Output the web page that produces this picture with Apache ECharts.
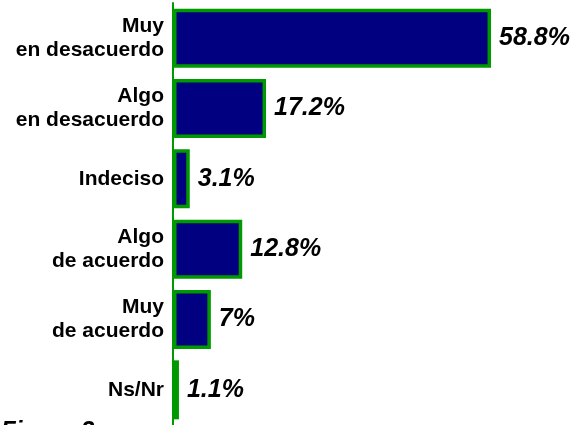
<!DOCTYPE html>
<html>
<head>
<meta charset="utf-8">
<script src="https://cdn.jsdelivr.net/npm/echarts@6/dist/echarts.min.js"></script>
<style>html,body{margin:0;padding:0;background:#fff;}#c{width:575px;height:425px;}</style>
</head>
<body>
<div id="c"></div>
<script>
const categories = ["Muy\nen desacuerdo", "Algo\nen desacuerdo", "Indeciso", "Algo\nde acuerdo", "Muy\nde acuerdo", "Ns/Nr"];
const values = [58.8, 17.2, 3.1, 12.8, 7, 1.1];
const valueLabels = ["58.8%", "17.2%", "3.1%", "12.8%", "7%", "1.1%"];
const figureTitle = "Figura 2";

const chart = echarts.init(document.getElementById('c'), null, {renderer: 'canvas'});
chart.setOption({
  animation: false,
  grid: {left: 173, right: 23.4, top: 3, bottom: -5, containLabel: false},
  xAxis: {
    type: 'value', min: 0, max: 70,
    show: false
  },
  yAxis: {
    type: 'category', data: categories, inverse: true,
    axisLine: {show: true, lineStyle: {color: '#009900', width: 2}},
    axisTick: {show: false},
    splitLine: {show: false},
    axisLabel: {
      margin: 9, align: 'right', color: '#000',
      fontFamily: 'Liberation Sans, Arial, sans-serif', fontWeight: 'bold', fontSize: 21, lineHeight: 24
    }
  },
  series: [{
    type: 'bar',
    data: values.map((v, i) => ({value: v, label: {formatter: valueLabels[i]}})),
    barWidth: 59,
    itemStyle: {color: '#000080', borderColor: '#009900', borderWidth: 3.5},
    label: {
      show: true, position: 'right', distance: 8, color: '#000',
      fontFamily: 'Liberation Sans, Arial, sans-serif', fontWeight: 'bold', fontStyle: 'italic', fontSize: 25
    }
  }],
  graphic: [{
    type: 'text', left: 1, top: 419,
    style: {text: figureTitle, fill: '#000', font: 'italic bold 24px "Liberation Sans", Arial, sans-serif'}
  }]
});
</script>
</body>
</html>
